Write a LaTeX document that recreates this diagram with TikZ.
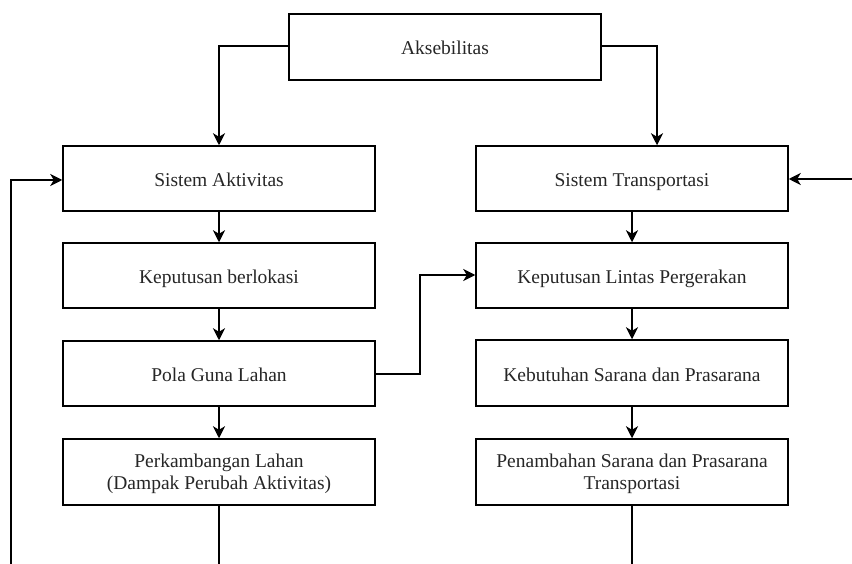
\documentclass[tikz,border=0pt]{standalone}
\usepackage{fontspec}
\setmainfont{Liberation Serif}
\usetikzlibrary{arrows.meta}
\begin{document}
\begin{tikzpicture}[x=1pt,y=-1pt,
  box/.style={draw=black, line width=1.5pt, rectangle, minimum width=312pt, minimum height=65pt, inner sep=0pt, align=center, font=\fontsize{19.5}{22}\selectfont, text=black!85},
  onebox/.style={box, text height=17pt, text depth=1pt},
  conn/.style={line width=1.5pt, draw=black},
  arr/.style={conn, -{Stealth[length=12pt,width=12pt,inset=3.5pt]}}]
\useasboundingbox (0,0) rectangle (852,564);
\node[onebox, minimum height=66pt] (A) at (445,47) {Aksebilitas};
\node[onebox] (SA) at (219,178.5) {Sistem Aktivitas};
\node[onebox] (KB) at (219,275.5) {Keputusan berlokasi};
\node[onebox] (PG) at (219,373.5) {Pola Guna Lahan};
\node[box, minimum height=66pt] (PL) at (219,472) {\rule{0pt}{18pt}Perkambangan Lahan\\(Dampak Perubah Aktivitas)};
\node[onebox] (ST) at (632,178.5) {Sistem Transportasi};
\node[onebox] (KL) at (632,275.5) {Keputusan Lintas Pergerakan};
\node[onebox, minimum height=66pt] (KS) at (632,373) {Kebutuhan Sarana dan Prasarana};
\node[box, minimum height=66pt] (PS) at (632,472) {\rule{0pt}{18pt}Penambahan Sarana dan Prasarana\\Transportasi};
\coordinate (aL) at (219,46);
\coordinate (aR) at (657,46);
\coordinate (rIn) at (852,179);
\coordinate (fb0) at (11,564);
\coordinate (fb1) at (11,180);
\coordinate (pg1) at (420,374);
\coordinate (pg2) at (420,275);
\coordinate (bL) at (219,564);
\coordinate (bR) at (632,564);
\draw[arr] (A.west |- aL) -- (aL) -- (SA.north);
\draw[arr] (A.east |- aR) -- (aR) -- (aR |- ST.north);
\draw[arr] (rIn) -- (ST.east |- rIn);
\draw[arr] (fb0) -- (fb1) -- (SA.west |- fb1);
\draw[arr] (SA) -- (KB);
\draw[arr] (KB) -- (PG);
\draw[arr] (PG) -- (PL);
\draw[arr] (ST) -- (KL);
\draw[arr] (KL) -- (KS);
\draw[arr] (KS) -- (PS);
\draw[arr] (PG.east |- pg1) -- (pg1) -- (pg2) -- (KL.west |- pg2);
\draw[conn] (PL.south) -- (bL);
\draw[conn] (PS.south) -- (bR);
\end{tikzpicture}
\end{document}
